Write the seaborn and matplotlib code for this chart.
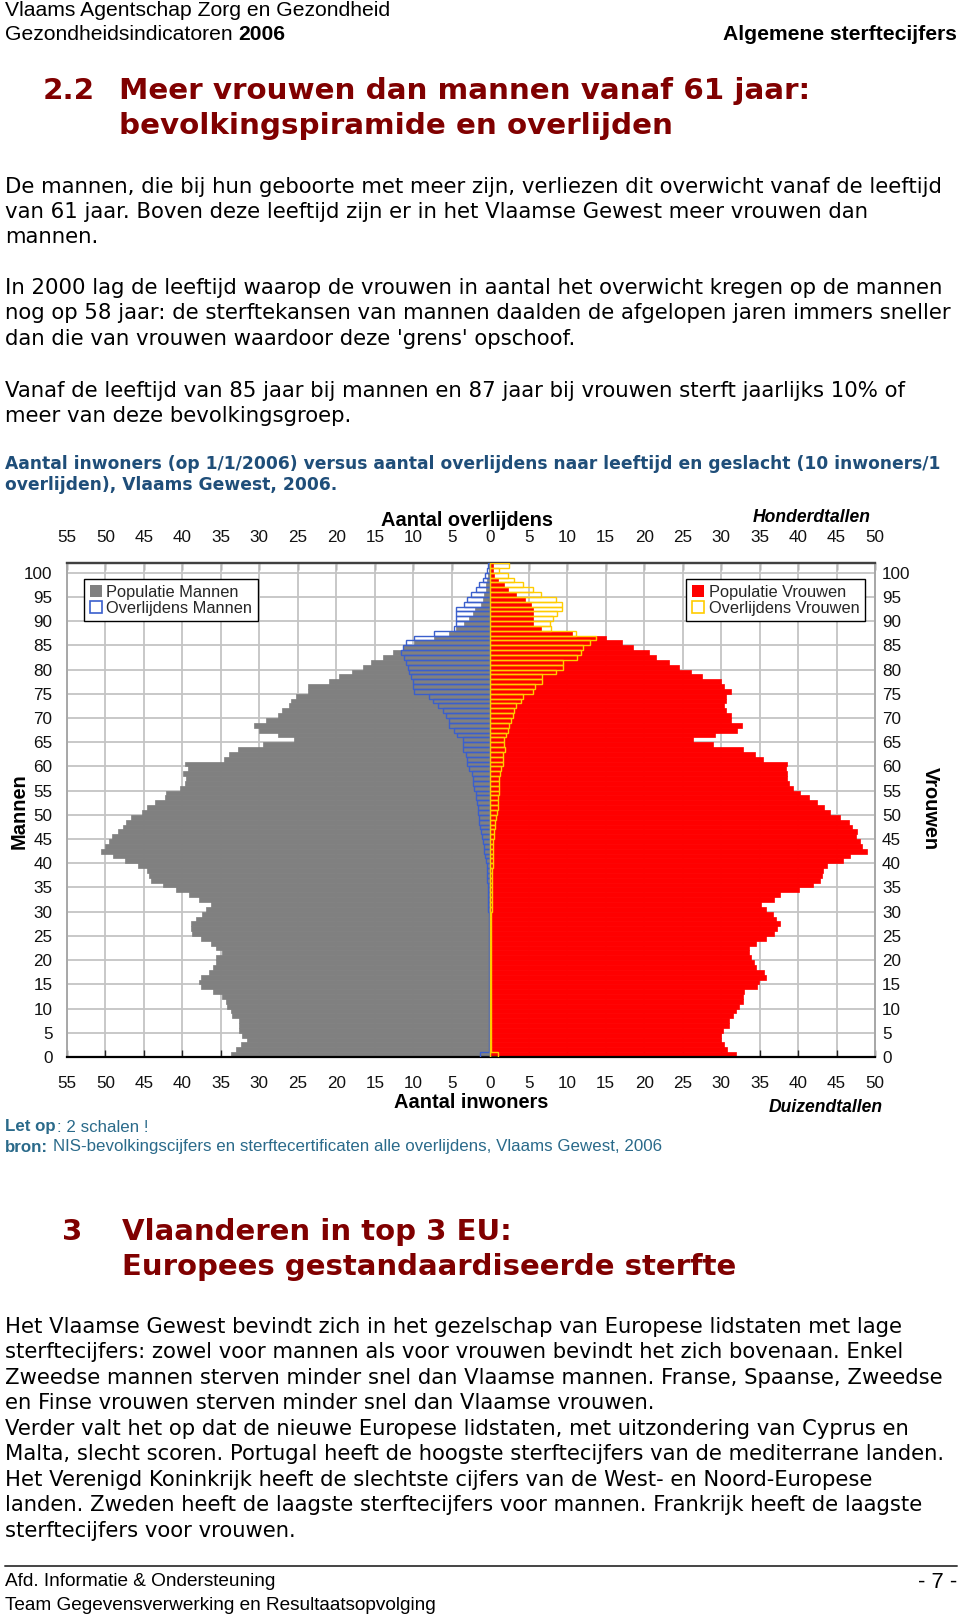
import numpy as np
import pandas as pd
import seaborn as sns
import matplotlib
matplotlib.use("Agg")
import matplotlib.pyplot as plt
from matplotlib.patches import Patch
from matplotlib.textpath import TextPath
from matplotlib.font_manager import FontProperties, fontManager

# ---------------- data ----------------
ages = list(range(0, 102))
# population (thousands)
pop_men = [33.7, 33.0, 32.4, 31.6, 32.2, 32.6, 32.7, 32.7, 33.5, 33.7,
           34.2, 34.3, 34.8, 36.0, 37.6, 37.9, 37.6, 36.5, 36.0, 35.7,
           35.6, 34.8, 35.6, 36.3, 37.6, 38.7, 38.9, 38.9, 38.2, 37.4,
           37.0, 36.3, 37.8, 39.1, 40.8, 42.5, 44.1, 44.3, 44.6, 45.8,
           47.4, 49.0, 50.6, 50.1, 49.6, 49.1, 48.4, 47.7, 47.3, 46.7,
           45.2, 44.6, 43.6, 42.2, 42.1, 40.3, 39.7, 39.6, 39.9, 39.3,
           39.7, 34.6, 34.0, 32.8, 29.5, 25.5, 27.6, 30.0, 30.7, 29.2,
           27.6, 27.0, 26.1, 25.9, 25.2, 23.7, 23.7, 21.0, 19.7, 17.9,
           16.5, 15.5, 14.0, 12.7, 11.4, 9.9, 7.3, 5.3, 4.5, 3.4,
           2.7, 2.3, 2.0, 1.2, 1.0, 0.8, 0.6, 0.5, 0.4, 0.3,
           0.2, 0.15]
pop_women = [31.9, 30.8, 30.4, 30.0, 30.0, 30.3, 31.0, 31.0, 31.5, 31.9,
             32.3, 32.8, 32.8, 33.0, 34.7, 34.9, 35.8, 35.6, 34.5, 34.3,
             33.9, 33.6, 33.6, 34.5, 35.9, 36.9, 37.2, 37.6, 37.1, 36.7,
             35.9, 35.2, 36.9, 37.7, 40.1, 41.9, 42.9, 43.1, 43.2, 43.8,
             45.8, 46.8, 49.0, 48.3, 48.1, 47.5, 47.7, 47.0, 46.6, 45.5,
             44.1, 43.4, 42.4, 41.4, 40.3, 39.3, 38.8, 38.6, 38.5, 38.4,
             38.6, 35.5, 34.4, 32.8, 28.9, 26.3, 29.2, 32.1, 32.7, 31.3,
             31.3, 30.6, 30.4, 30.6, 30.6, 31.3, 30.4, 30.0, 27.5, 26.1,
             24.5, 23.2, 21.6, 20.6, 18.5, 17.1, 15.1, 10.6, 6.6, 5.6,
             5.6, 5.6, 5.6, 5.3, 4.5, 3.3, 2.3, 1.8, 1.0, 0.5,
             0.4, 0.3]
# deaths (hundreds)
deaths_men = [1.3, 0.15, 0.13, 0.13, 0.13, 0.13, 0.13, 0.13, 0.13, 0.13,
              0.13, 0.13, 0.13, 0.17, 0.17, 0.17, 0.17, 0.17, 0.17, 0.17,
              0.22, 0.22, 0.22, 0.22, 0.22, 0.22, 0.22, 0.22, 0.22, 0.22,
              0.26, 0.26, 0.26, 0.35, 0.35, 0.35, 0.43, 0.43, 0.43, 0.43,
              0.56, 0.65, 0.78, 0.8, 1.0, 1.13, 1.2, 1.3, 1.43, 1.5,
              1.65, 1.65, 1.77, 1.85, 1.9, 2.1, 2.3, 2.3, 2.4, 2.7,
              3.0, 3.0, 3.2, 3.5, 3.6, 3.6, 4.3, 4.7, 5.3, 5.3,
              5.8, 6.2, 6.8, 7.5, 8.0, 9.9, 10.1, 10.1, 10.3, 10.5,
              10.7, 11.0, 11.2, 11.6, 11.4, 10.9, 9.9, 7.3, 4.7, 4.5,
              4.5, 4.5, 4.5, 3.4, 3.0, 2.5, 1.9, 1.5, 1.0, 0.65,
              0.4, 0.35]
deaths_women = [0.95, 0.1, 0.13, 0.13, 0.13, 0.13, 0.13, 0.13, 0.13, 0.13,
                0.13, 0.13, 0.13, 0.13, 0.13, 0.13, 0.13, 0.13, 0.13, 0.13,
                0.13, 0.13, 0.13, 0.13, 0.13, 0.13, 0.13, 0.13, 0.13, 0.13,
                0.17, 0.17, 0.17, 0.17, 0.17, 0.17, 0.22, 0.22, 0.22, 0.3,
                0.3, 0.3, 0.39, 0.39, 0.39, 0.52, 0.52, 0.65, 0.65, 0.74,
                0.82, 0.95, 0.95, 1.0, 1.1, 1.2, 1.2, 1.2, 1.3, 1.4,
                1.6, 1.6, 1.7, 1.9, 1.8, 1.8, 2.0, 2.25, 2.5, 2.7,
                2.9, 3.1, 3.3, 4.0, 4.2, 5.5, 5.8, 6.7, 6.7, 8.5,
                9.5, 9.5, 11.3, 11.8, 12.1, 12.9, 13.8, 11.1, 7.9, 7.8,
                8.1, 8.7, 9.3, 9.3, 8.6, 6.6, 5.5, 4.3, 3.1, 2.25,
                1.2, 2.5]
x_ticks = list(range(-55, 51, 5))
y_ticks = list(range(0, 101, 5))
legend_men = ["Populatie Mannen", "Overlijdens Mannen"]
legend_women = ["Populatie Vrouwen", "Overlijdens Vrouwen"]

# ---------------- setup ----------------
DPI = 100
W, H = 960, 1621
sns.set_theme(style="white")
plt.rcParams["font.family"] = ["DejaVu Sans"]

names = {f.name for f in fontManager.ttflist}
ARIAL = "Liberation Sans"
NARROW = "Liberation Sans Narrow" if "Liberation Sans Narrow" in names else ARIAL
VERDANA = "DejaVu Sans"

DARKRED = "#800000"
CAPBLUE = "#1F4E79"
TEAL = "#2A6A8A"
GRAY = "#808080"
RED = "#FF0000"
BLUE = "#3A5FCD"
YELLOW = "#FFCC00"


def fit(s, px, family, weight="normal", style="normal"):
    fp = FontProperties(family=family, weight=weight, style=style)
    w = TextPath((0, 0), s, size=10, prop=fp).get_extents().width
    return 10 * px / (w * DPI / 72)


fig = plt.figure(figsize=(W / DPI, H / DPI), dpi=DPI)
fig.patch.set_facecolor("white")
page = fig.add_axes([0, 0, 1, 1])
page.set_xlim(0, W)
page.set_ylim(H, 0)
page.axis("off")
renderer = fig.canvas.get_renderer()


def put(x, y, s, size, family, weight="normal", style="normal", color="black",
        ha="left", va="center", rotation=0):
    return page.text(x, y, s, fontsize=size, family=family, weight=weight,
                     style=style, color=color, ha=ha, va=va, rotation=rotation)


def width_of(t):
    bb = t.get_window_extent(renderer=renderer)
    return bb.width


# ---------------- header ----------------
hs = fit("Vlaams Agentschap Zorg en Gezondheid", 383, NARROW)
put(5, 11, "Vlaams Agentschap Zorg en Gezondheid", hs, NARROW)
t = put(5, 34, "Gezondheidsindicatoren", hs, NARROW)
put(5 + width_of(t) + 0.28 * hs * DPI / 72, 34, "2006", hs, NARROW, weight="bold")
put(957, 34, "Algemene sterftecijfers", hs, NARROW, weight="bold", ha="right")

# ---------------- heading 2.2 ----------------
hd = fit("bevolkingspiramide en overlijden", 549, VERDANA, weight="bold")
put(43, 91, "2.2", hd, VERDANA, weight="bold", color=DARKRED)
put(119, 91, "Meer vrouwen dan mannen vanaf 61 jaar:", hd, VERDANA, weight="bold", color=DARKRED)
put(119, 126, "bevolkingspiramide en overlijden", hd, VERDANA, weight="bold", color=DARKRED)

# ---------------- body 1 ----------------
body1 = [
    (187.0, "De mannen, die bij hun geboorte met meer zijn, verliezen dit overwicht vanaf de leeftijd"),
    (211.8, "van 61 jaar. Boven deze leeftijd zijn er in het Vlaamse Gewest meer vrouwen dan"),
    (236.6, "mannen."),
    (288.3, "In 2000 lag de leeftijd waarop de vrouwen in aantal het overwicht kregen op de mannen"),
    (313.1, "nog op 58 jaar: de sterftekansen van mannen daalden de afgelopen jaren immers sneller"),
    (339.0, "dan die van vrouwen waardoor deze 'grens' opschoof."),
    (390.6, "Vanaf de leeftijd van 85 jaar bij mannen en 87 jaar bij vrouwen sterft jaarlijks 10% of"),
    (416.5, "meer van deze bevolkingsgroep."),
]
bs = fit(body1[0][1], 936, VERDANA)
for y, s in body1:
    put(5, y, s, bs, VERDANA)

cs = fit("Aantal inwoners (op 1/1/2006) versus aantal overlijdens naar leeftijd en geslacht (10 inwoners/1",
         935, VERDANA, weight="bold")
put(5, 464, "Aantal inwoners (op 1/1/2006) versus aantal overlijdens naar leeftijd en geslacht (10 inwoners/1",
    cs, VERDANA, weight="bold", color=CAPBLUE)
put(5, 485, "overlijden), Vlaams Gewest, 2006.", cs, VERDANA, weight="bold", color=CAPBLUE)

# ---------------- chart ----------------
AX_L, AX_R, AX_T, AX_B = 67, 875, 563, 1057
ax = fig.add_axes([AX_L / W, 1 - AX_B / H, (AX_R - AX_L) / W, (AX_B - AX_T) / H])
df = pd.DataFrame({"age": ages, "pop_men": pop_men, "pop_women": pop_women,
                   "deaths_men": deaths_men, "deaths_women": deaths_women})
df["ypos"] = df["age"] + 0.5
df["men_left"] = -df["pop_men"]
df["dmen_left"] = -df["deaths_men"]


def bars(col, color, fill):
    n0 = len(ax.patches)
    sns.barplot(data=df, x=col, y="ypos", orient="h", native_scale=True,
                color=color, width=1.0, errorbar=None, saturation=1,
                fill=fill, ax=ax)
    for p in ax.patches[n0:]:
        if fill:
            p.set_facecolor(color)
            p.set_edgecolor(color)
            p.set_linewidth(0.5)
        else:
            p.set_facecolor("none")
            p.set_edgecolor(color)
            p.set_linewidth(1.0)
            p.set_zorder(3)


bars("men_left", GRAY, True)
bars("pop_women", RED, True)
bars("dmen_left", BLUE, False)
bars("deaths_women", YELLOW, False)

ax.set_xlim(-55, 50)
ax.set_ylim(0, 102)
ax.set_xlabel("")
ax.set_ylabel("")
ax.set_axisbelow(True)
ax.grid(True, color="#C4C4C4", linewidth=1.3)
ax.set_xticks(x_ticks)
ax.set_xticklabels([str(abs(v)) for v in x_ticks])
ax.set_yticks(y_ticks)
ax.set_yticklabels([str(v) for v in y_ticks])
TICKFS = 12.3
ax.tick_params(axis="x", bottom=True, top=False, direction="in", length=5,
               width=1, color="#222222", pad=14, labelsize=TICKFS)
ax.tick_params(axis="y", left=False, right=False, pad=4.5, labelsize=TICKFS)
for lab in ax.get_xticklabels() + ax.get_yticklabels():
    lab.set_family(ARIAL)
    lab.set_color("#111111")

top = ax.secondary_xaxis("top")
top.set_xticks(x_ticks)
top.set_xticklabels([str(abs(v)) for v in x_ticks])
top.tick_params(axis="x", direction="in", length=5, width=1, color="#333333",
                pad=13, labelsize=TICKFS)
top.spines["top"].set_color("#404040")
top.spines["top"].set_linewidth(1.6)
for lab in top.get_xticklabels():
    lab.set_family(ARIAL)
    lab.set_color("#111111")

right = ax.secondary_yaxis("right")
right.set_yticks(y_ticks)
right.set_yticklabels([str(v) for v in y_ticks])
right.tick_params(axis="y", length=0, pad=5, labelsize=TICKFS)
right.spines["right"].set_color("#A8A8A8")
right.spines["right"].set_linewidth(1.4)
for lab in right.get_yticklabels():
    lab.set_family(ARIAL)
    lab.set_color("#111111")

ax.spines["top"].set_color("#404040")
ax.spines["top"].set_linewidth(1.6)
ax.spines["bottom"].set_color("black")
ax.spines["bottom"].set_linewidth(1.6)
ax.spines["left"].set_color("#A8A8A8")
ax.spines["left"].set_linewidth(1.4)
ax.spines["right"].set_color("#A8A8A8")
ax.spines["right"].set_linewidth(1.4)

LEGFS = 11.8
h_men = [Patch(facecolor=GRAY, edgecolor="none", label=legend_men[0]),
         Patch(facecolor="white", edgecolor=BLUE, linewidth=1.2, label=legend_men[1])]
h_women = [Patch(facecolor=RED, edgecolor="none", label=legend_women[0]),
           Patch(facecolor="white", edgecolor=YELLOW, linewidth=1.2, label=legend_women[1])]
leg_kw = dict(handlelength=0.75, handleheight=0.75, handletextpad=0.25,
              labelspacing=0.05, borderpad=0.35, borderaxespad=0, fancybox=False,
              framealpha=1, prop={"family": ARIAL, "size": LEGFS})
aw, ah = AX_R - AX_L, AX_B - AX_T
leg1 = ax.legend(handles=h_men, loc="upper left",
                 bbox_to_anchor=((84 - AX_L) / aw, 1 - (579 - AX_T) / ah), **leg_kw)
leg1.get_frame().set_edgecolor("black")
leg1.get_frame().set_linewidth(1.0)
ax.add_artist(leg1)
leg2 = ax.legend(handles=h_women, loc="upper right",
                 bbox_to_anchor=((865 - AX_L) / aw, 1 - (579 - AX_T) / ah), **leg_kw)
leg2.get_frame().set_edgecolor("black")
leg2.get_frame().set_linewidth(1.0)

ts = fit("Aantal overlijdens", 171, ARIAL, weight="bold")
put(467, 520, "Aantal overlijdens", ts, ARIAL, weight="bold", ha="center")
put(471, 1102, "Aantal inwoners", ts, ARIAL, weight="bold", ha="center")
it = fit("Honderdtallen", 117, ARIAL, weight="bold", style="italic")
put(812, 518, "Honderdtallen", it, ARIAL, weight="bold", style="italic", ha="center")
put(826, 1107, "Duizendtallen", it, ARIAL, weight="bold", style="italic", ha="center")
put(19, 811, "Mannen", ts, ARIAL, weight="bold", ha="center", rotation=90)
put(930, 809, "Vrouwen", ts, ARIAL, weight="bold", ha="center", rotation=-90)

# ---------------- notes ----------------
ns = fit("bron: NIS-bevolkingscijfers en sterftecertificaten alle overlijdens, Vlaams Gewest, 2006", 648, NARROW)
t = put(5, 1127, "Let op", ns, NARROW, weight="bold", color=TEAL)
put(5 + width_of(t) + 1, 1127, ": 2 schalen !", ns, NARROW, color=TEAL)
t = put(5, 1147, "bron:", ns, NARROW, weight="bold", color=TEAL)
put(5 + width_of(t) + 0.28 * ns * DPI / 72, 1147,
    "NIS-bevolkingscijfers en sterftecertificaten alle overlijdens, Vlaams Gewest, 2006", ns, NARROW, color=TEAL)

# ---------------- heading 3 ----------------
h3 = fit("Europees gestandaardiseerde sterfte", 610, VERDANA, weight="bold")
put(62, 1232, "3", h3, VERDANA, weight="bold", color=DARKRED)
put(122, 1232, "Vlaanderen in top 3 EU:", h3, VERDANA, weight="bold", color=DARKRED)
put(122, 1267, "Europees gestandaardiseerde sterfte", h3, VERDANA, weight="bold", color=DARKRED)

body2 = [
    "Het Vlaamse Gewest bevindt zich in het gezelschap van Europese lidstaten met lage",
    "sterftecijfers: zowel voor mannen als voor vrouwen bevindt het zich bovenaan. Enkel",
    "Zweedse mannen sterven minder snel dan Vlaamse mannen. Franse, Spaanse, Zweedse",
    "en Finse vrouwen sterven minder snel dan Vlaamse vrouwen.",
    "Verder valt het op dat de nieuwe Europese lidstaten, met uitzondering van Cyprus en",
    "Malta, slecht scoren. Portugal heeft de hoogste sterftecijfers van de mediterrane landen.",
    "Het Verenigd Koninkrijk heeft de slechtste cijfers van de West- en Noord-Europese",
    "landen. Zweden heeft de laagste sterftecijfers voor mannen. Frankrijk heeft de laagste",
    "sterftecijfers voor vrouwen.",
]
b2 = fit(body2[5], 937, VERDANA)
for i, s in enumerate(body2):
    put(5, 1327 + i * 25.45, s, b2, VERDANA)

# ---------------- footer ----------------
page.plot([5, 957], [1566, 1566], color="#444444", linewidth=1.4)
fs = fit("Team Gegevensverwerking en Resultaatsopvolging", 432, NARROW)
put(5, 1582, "Afd. Informatie & Ondersteuning", fs, NARROW)
put(957, 1582, "- 7 -", fs * 1.15, NARROW, ha="right")
put(5, 1606, "Team Gegevensverwerking en Resultaatsopvolging", fs, NARROW)

fig.savefig("out.png", dpi=DPI, facecolor="white")
